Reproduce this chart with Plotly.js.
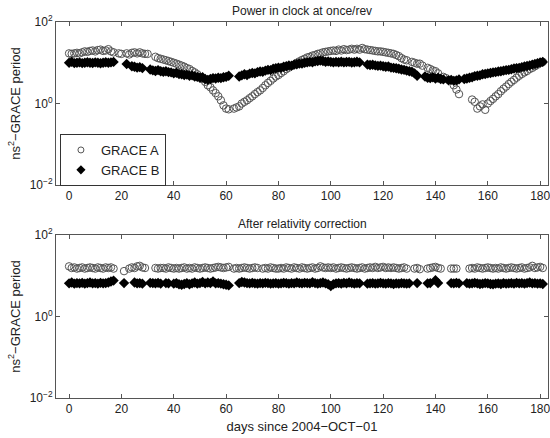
<!DOCTYPE html>
<html><head><meta charset="utf-8">
<script src="https://cdn.plot.ly/plotly-3.0.1.min.js"></script>
<style>html,body{margin:0;padding:0;background:#fff}#chart{width:550px;height:438px}</style>
</head><body><div id="chart"></div>
<script>
const nDays = 182;
const days = [];
for (let d = 0; d < nDays; d++) days.push(d);

const topTitle = "Power in clock at once/rev";
const bottomTitle = "After relativity correction";
const xTitle = "days since 2004\u2212OCT\u221201";
const yTitle = "ns<sup>2</sup>\u2212GRACE period";
const seriesNames = ["GRACE A", "GRACE B"];
const xTicks = [0,20,40,60,80,100,120,140,160,180];
const yTickVals = [0.01, 1, 100];
const yTickText = ["10<sup>\u22122</sup>", "10<sup>0</sup>", "10<sup>2</sup>"];

const topA = [
17,16.5,17,17.5,17,18,19,18.5,19.5,20,
19,20.5,21,19.5,20,21.5,19,18,null,17,
16.5,null,17,16,17.5,18,17,18,17,16.5,
16.5,null,null,14,13,12.5,12,11.5,11,10.5,
10,9.5,9,8.5,8,7.4,7,6.3,5.8,5.2,
4.5,4,3.4,2.8,2.5,2.1,1.8,1.5,1.2,0.9,
0.75,0.72,null,0.75,0.8,0.85,1.0,1.1,1.2,1.35,
1.5,1.7,1.9,2.1,2.4,2.8,3.2,3.6,4.1,4.6,
5,5.6,6.2,7,7.6,8.3,9,10,10.8,11.7,
12.5,13.5,14,15,15.5,16.5,17,18,18.5,19,
19.5,20,19.5,21,20,21.5,20.5,21,22,21,
22,21,23,21.5,21,20.5,20,19.5,19,19,
18.5,18,17.5,17,16.5,15.5,14.5,13,12,11.5,
null,10.5,10,9.5,9.5,8.5,null,7.5,7,6.5,
6.2,5.5,null,4.5,4.2,3.8,null,2.8,2.2,1.7,
null,null,null,null,1.25,1.1,0.75,0.85,0.95,0.7,
1.0,1.15,1.3,1.5,1.7,2.0,2.3,2.6,3.0,3.4,
3.8,4.3,4.8,5.3,5.8,6.3,7,7.5,8.2,9,
9.8,10.5];

const topB = [
10,10.5,9.8,10,10.2,9.8,10,10.3,10,9.9,
10.2,10,9.7,10,10.3,10,10.2,10.5,null,null,
null,null,9.3,null,8.2,8,7.6,7.8,7.4,null,
null,6.8,6.5,6.3,6.6,6.2,6,6.2,5.9,5.8,
5.5,5.7,5.3,5.2,5.0,5.1,4.8,4.9,4.6,4.5,
4.3,4.4,4.0,3.8,4.0,4.2,4.1,4.3,4.2,4.4,
4.5,4.8,null,null,null,4.6,4.9,5.2,5.0,5.4,
5.6,5.5,5.9,6.1,6.0,6.4,6.7,6.6,7.1,7.3,
7.6,7.5,8.0,8.2,8.6,8.5,9.0,9.2,9.6,9.5,
10,10.2,10.5,10.3,10.8,11,11.3,11,10.6,10.8,
10.5,10.2,10.5,10.3,10.6,10.2,10.4,10.5,10.1,10.3,
10.6,10.2,null,null,9,8.8,8.9,8.6,8.4,8.5,
8.2,8,8.1,7.6,7.5,7.3,7.1,6.8,6.7,6.4,
6.2,6.0,5.5,4.8,null,null,4.6,4.3,4.2,4.4,
4.1,4.3,4.0,3.9,null,3.7,3.8,3.6,3.7,3.9,
null,4.0,4.1,4.3,4.4,4.7,4.8,4.9,5.2,5.3,
5.5,5.6,5.8,5.9,6.1,6.2,6.4,6.6,6.7,6.9,
7.2,7.4,7.5,7.8,8.1,8.3,8.6,9,9.3,9.7,
10.2,10.5];

const botA = [
17,15.5,16,15,15.5,16,15,15.5,16,15.5,
15,16,15.5,15,16,15.5,16,15,null,null,
null,13,null,15,16,15.5,17,17.5,16,15.5,
null,null,null,15.5,15,15.5,15.5,15,16,15.5,
15,15.5,15,15.5,16,15,15.5,15,16,15.5,
15,15.5,16,15.5,15,15.5,16,16.5,16,15.5,
16,16.5,null,15,15.5,15,15.5,16,15.5,15,
15.5,16,15.5,null,15,15.5,15,16,15.5,15,
15,15.5,15,16,15.5,15,16,15.5,15,16,
15.5,15,15.5,16,15,15.5,17,16,15.5,16,
15.5,16,15,15.5,16,15.5,15,15.5,16,15.5,
15,15.5,16,15,15.5,16,15.5,16.5,15.5,16,
16.5,15.5,16,15.5,16,15.5,15,15.5,16,15,
null,null,15,15.5,14.5,null,null,15,15.5,16,
16.5,15.5,15,null,null,null,15,15,15,null,
null,null,null,15,15.5,15,16,15.5,15,15.5,
16,15.5,15,15.5,15,16,15.5,15,15.5,16,
15.5,15,15.5,16,15,15.5,16,17.5,15.5,16,
16.5,15.5];

const botB = [
6.5,6.8,6.4,6.6,6.5,6.7,6.4,6.6,6.8,6.5,
6.6,6.4,6.7,6.5,6.6,6.8,7.2,7.6,null,null,
null,6.6,null,null,null,6.8,6.5,6.6,6.4,null,
null,6.7,6.6,6.5,6.7,6.4,null,6.6,6.5,null,
6.4,6.6,6.2,6.0,6.3,6.6,6.2,6.5,6.8,6.4,
6.6,7.0,6.5,6.8,6.6,7.2,6.5,6.6,6.4,6.2,
6.0,5.8,null,null,null,6.6,7.0,6.8,6.6,6.5,
6.7,6.5,6.4,6.6,6.5,6.7,6.6,6.4,6.5,6.6,
6.4,6.5,6.7,6.6,6.4,6.6,6.5,6.8,6.6,6.5,
6.7,6.6,6.5,6.9,6.6,6.4,6.6,6.8,6.5,6.2,
5.6,6.2,6.5,6.6,6.4,6.7,6.5,6.8,6.6,6.4,
6.6,6.5,null,null,6.4,6.5,6.6,6.4,6.5,6.7,
6.5,6.4,6.6,6.5,6.3,6.5,6.4,6.6,6.5,6.4,
6.5,null,null,6.6,null,null,null,6.5,6.6,null,
7.8,6.6,null,null,null,null,6.6,6.5,6.7,6.5,
null,null,6.6,6.4,6.5,6.7,6.5,6.3,6.4,6.6,
6.5,6.3,6.2,6.4,6.5,6.3,6.6,6.4,6.5,6.6,
6.4,6.7,6.5,6.6,6.4,6.6,6.8,6.5,6.6,6.4,
6.5,6.3];

const mA = {symbol:'circle-open', size:7.5, color:'#555', line:{width:1, color:'#555'}};
const mB = {symbol:'diamond', size:8, color:'#000'};
const mAleg = {symbol:'circle-open', size:6, color:'#555', line:{width:1, color:'#555'}};
const mBleg = {symbol:'diamond', size:7, color:'#000'};

const traces = [
  {x:days, y:topA, type:'scatter', mode:'markers', name:seriesNames[0], marker:mA, xaxis:'x', yaxis:'y', showlegend:false},
  {x:days, y:topB, type:'scatter', mode:'markers', name:seriesNames[1], marker:mB, xaxis:'x', yaxis:'y', showlegend:false},
  {x:days, y:botA, type:'scatter', mode:'markers', name:seriesNames[0], marker:mA, xaxis:'x2', yaxis:'y2', showlegend:false},
  {x:days, y:botB, type:'scatter', mode:'markers', name:seriesNames[1], marker:mB, xaxis:'x2', yaxis:'y2', showlegend:false},
  {x:[null], y:[null], type:'scatter', mode:'markers', name:seriesNames[0], marker:mAleg, xaxis:'x', yaxis:'y', showlegend:true},
  {x:[null], y:[null], type:'scatter', mode:'markers', name:seriesNames[1], marker:mBleg, xaxis:'x', yaxis:'y', showlegend:true}
];

const axCommon = {showgrid:false, zeroline:false, showline:true, linecolor:'#555', linewidth:1,
  mirror:'ticks', ticks:'inside', ticklen:4, tickcolor:'#555', tickfont:{size:12, color:'#222'},
  ticklabeloverflow:'allow'};

const xAx = Object.assign({}, axCommon, {range:[-5,183], tickvals:xTicks, ticktext:xTicks.map(String)});
const yAx = Object.assign({}, axCommon, {type:'log', range:[-2,2], tickvals:yTickVals, ticktext:yTickText,
  title:{text:yTitle, font:{size:13, color:'#222'}, standoff:6}});

const layout = {
  width:550, height:438,
  margin:{l:56, r:2, t:22, b:40},
  paper_bgcolor:'#fff', plot_bgcolor:'#fff',
  font:{family:'"Liberation Sans", Arial, sans-serif', size:12, color:'#222'},
  xaxis:Object.assign({}, xAx, {anchor:'y'}),
  yaxis:Object.assign({}, yAx, {domain:[0.5665,1], anchor:'x'}),
  xaxis2:Object.assign({}, xAx, {anchor:'y2', title:{text:xTitle, font:{size:13, color:'#222'}, standoff:6}}),
  yaxis2:Object.assign({}, yAx, {domain:[0,0.4335], anchor:'x2'}),
  showlegend:true,
  legend:{x:0.008, y:0.633, xanchor:'left', yanchor:'middle', bordercolor:'#333', borderwidth:1,
    bgcolor:'#fff', font:{size:13, color:'#222'}, tracegroupgap:0},
  annotations:[
    {text:topTitle, xref:'paper', yref:'paper', x:0.5, y:1, yanchor:'bottom', yshift:2, showarrow:false, font:{size:12, color:'#222'}},
    {text:bottomTitle, xref:'paper', yref:'paper', x:0.5, y:0.4335, yanchor:'bottom', yshift:2, showarrow:false, font:{size:12, color:'#222'}}
  ]
};

Plotly.newPlot('chart', traces, layout, {displayModeBar:false, staticPlot:true});
</script>
</body></html>
